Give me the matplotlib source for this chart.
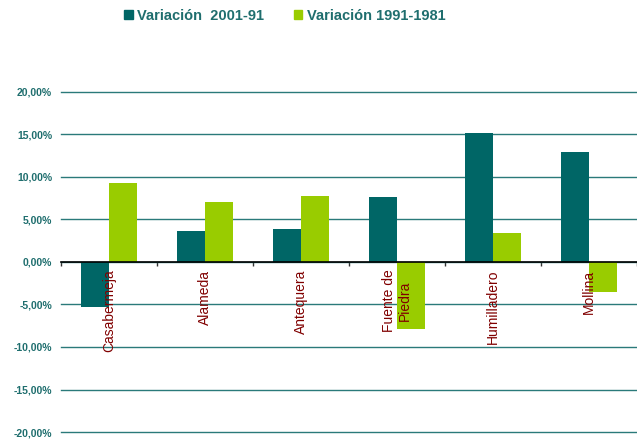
import matplotlib.pyplot as plt
import numpy as np
from matplotlib.ticker import FuncFormatter, FixedLocator
from matplotlib.patches import Patch

municipios = ["Casabermeja", "Alameda", "Antequera", "Fuente de\nPiedra", "Humilladero", "Mollina"]
var_2001_91 = [-5.3, 3.7, 3.9, 7.6, 15.2, 12.9]
var_1991_81 = [9.3, 7.1, 7.8, -7.9, 3.4, -3.5]
series_names = ["Variación  2001-91", "Variación 1991-1981"]

dark = "#006666"
green = "#99CC00"
text_teal = "#1F6E6E"
label_red = "#800000"

plt.rcParams['font.family'] = ['Liberation Sans', 'DejaVu Sans']

fig = plt.figure(figsize=(6.37, 4.42), dpi=100)
ax = fig.add_axes([0.096, 0.0226, 0.904, 0.7694])

x = np.arange(len(municipios))
w = 0.29
ax.bar(x - w / 2, var_2001_91, w, color=dark, zorder=3)
ax.bar(x + w / 2, var_1991_81, w, color=green, zorder=3)

ax.set_xlim(-0.5, len(municipios) - 0.5)
ax.set_ylim(-20, 20)
ax.set_yticks(np.arange(-20, 21, 5))
ax.yaxis.set_major_formatter(FuncFormatter(lambda v, p: f"{v:.2f}%".replace(".", ",")))
ax.tick_params(axis='y', length=0, pad=6.5, labelsize=7.5, labelcolor=text_teal)
for t in ax.get_yticklabels():
    t.set_fontweight('bold')
ax.grid(axis='y', color="#2A7A7A", linewidth=1.0, zorder=0)
for gl in ax.get_ygridlines():
    gl.set_clip_on(False)

# zero line with small ticks between categories
for s in ['top', 'right', 'left']:
    ax.spines[s].set_visible(False)
ax.spines['bottom'].set_position(('data', 0))
ax.spines['bottom'].set_color('black')
ax.spines['bottom'].set_linewidth(1.2)
ax.spines['bottom'].set_zorder(4)
ax.xaxis.set_major_locator(FixedLocator(np.arange(-0.5, len(municipios), 1.0)))
ax.set_xticklabels([])
ax.tick_params(axis='x', direction='out', length=3, width=1, color='#333333')

for xi, name in zip(x, municipios):
    ax.text(xi, -0.9, name, rotation=90, ha='center', va='top', multialignment='center',
            fontsize=10, color=label_red, zorder=5)

handles = [Patch(color=dark), Patch(color=green)]
fig.legend(handles, series_names, loc='center', bbox_to_anchor=(0.447, 0.964),
           ncol=2, frameon=False, handlelength=0.6, handleheight=0.6, handletextpad=0.3,
           columnspacing=2.0, prop={'weight': 'bold', 'size': 10.5},
           labelcolor=text_teal)

plt.savefig("out.png", dpi=100)
